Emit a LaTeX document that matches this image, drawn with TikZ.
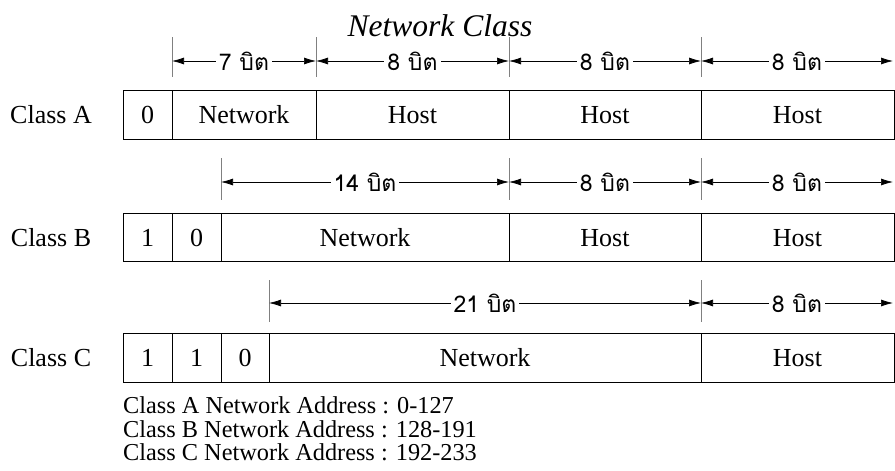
\documentclass[tikz,border=0pt]{standalone}
\usepackage{fontspec}
\setmainfont{Liberation Serif}
\newfontfamily\thaifont[Script=Thai]{Loma}
\usetikzlibrary{arrows.meta}
\begin{document}
\begin{tikzpicture}[x=1pt,y=-1pt,
  cell/.style={draw, line width=0.9pt, inner sep=0pt, outer sep=0pt, text height=18pt, text depth=0pt, font=\fontsize{26}{30}\selectfont},
  rowlabel/.style={inner sep=0pt, text height=18pt, text depth=0pt, font=\fontsize{26}{30}\selectfont},
  dimline/.style={line width=0.7pt, {Latex[length=12pt,width=7pt]}-{Latex[length=12pt,width=7pt]}},
  bitlbl/.style={fill=white, inner xsep=3pt, inner ysep=1pt, font=\thaifont\fontsize{23}{26}\selectfont},
  tick/.style={line width=0.6pt, gray},
  note/.style={inner sep=0pt, anchor=base west, font=\fontsize{24.3}{28}\selectfont}]
\useasboundingbox (0,0) rectangle (895,471);
% title
\node[inner sep=0pt, anchor=base, font=\itshape\fontsize{31.5}{36}\selectfont] (title) at (440,36) {Network Class};
% row labels
\node[rowlabel] (la) at (51,114.5) {Class A};
\node[rowlabel] (lb) at (51,237) {Class B};
\node[rowlabel] (lc) at (51,357.5) {Class C};
% Row A cells
\node[cell, minimum width=49pt, minimum height=49pt] (a0) at (147.5,114.5) {0};
\node[cell, minimum width=144pt, minimum height=49pt] (a1) at (244,114.5) {Network};
\node[cell, minimum width=193pt, minimum height=49pt] (a2) at (412.5,114.5) {Host};
\node[cell, minimum width=192pt, minimum height=49pt] (a3) at (605,114.5) {Host};
\node[cell, minimum width=193pt, minimum height=49pt] (a4) at (797.5,114.5) {Host};
% Row B cells
\node[cell, minimum width=49pt, minimum height=48pt] (b0) at (147.5,237) {1};
\node[cell, minimum width=49pt, minimum height=48pt] (b1) at (196.5,237) {0};
\node[cell, minimum width=288pt, minimum height=48pt] (b2) at (365,237) {Network};
\node[cell, minimum width=192pt, minimum height=48pt] (b3) at (605,237) {Host};
\node[cell, minimum width=193pt, minimum height=48pt] (b4) at (797.5,237) {Host};
% Row C cells
\node[cell, minimum width=49pt, minimum height=49pt] (c0) at (147.5,357.5) {1};
\node[cell, minimum width=49pt, minimum height=49pt] (c1) at (196.5,357.5) {1};
\node[cell, minimum width=48pt, minimum height=49pt] (c2) at (245,357.5) {0};
\node[cell, minimum width=432pt, minimum height=49pt] (c3) at (485,357.5) {Network};
\node[cell, minimum width=193pt, minimum height=49pt] (c4) at (797.5,357.5) {Host};
% ticks
\foreach \x in {172,316,509,701} \draw[tick] (\x,37) -- (\x,77);
\foreach \x in {221,509,701} \draw[tick] (\x,158) -- (\x,200);
\foreach \x in {269,701} \draw[tick] (\x,280) -- (\x,322);
% dimension end points
\coordinate (pa0) at (172,61);
\coordinate (pa1) at (316,61);
\coordinate (pa2) at (509,61);
\coordinate (pa3) at (701,61);
\coordinate (pa4) at (893,61);
\coordinate (pb0) at (221,182);
\coordinate (pb1) at (509,182);
\coordinate (pb2) at (701,182);
\coordinate (pb3) at (893,182);
\coordinate (pc0) at (269,303);
\coordinate (pc1) at (701,303);
\coordinate (pc2) at (893,303);
% dimension arrows
\draw[dimline] (pa0) -- node[bitlbl] (da1) {7 บิต} (pa1);
\draw[dimline] (pa1) -- node[bitlbl] (da2) {8 บิต} (pa2);
\draw[dimline] (pa2) -- node[bitlbl] (da3) {8 บิต} (pa3);
\draw[dimline] (pa3) -- node[bitlbl] (da4) {8 บิต} (pa4);
\draw[dimline] (pb0) -- node[bitlbl] (db1) {14 บิต} (pb1);
\draw[dimline] (pb1) -- node[bitlbl] (db2) {8 บิต} (pb2);
\draw[dimline] (pb2) -- node[bitlbl] (db3) {8 บิต} (pb3);
\draw[dimline] (pc0) -- node[bitlbl] (dc1) {21 บิต} (pc1);
\draw[dimline] (pc1) -- node[bitlbl] (dc2) {8 บิต} (pc2);
% notes
\node[note] (n1) at (123,413) {Class A Network Address : 0-127};
\node[note] (n2) at (123,437) {Class B Network Address : 128-191};
\node[note] (n3) at (123,460) {Class C Network Address : 192-233};
\end{tikzpicture}
\end{document}
